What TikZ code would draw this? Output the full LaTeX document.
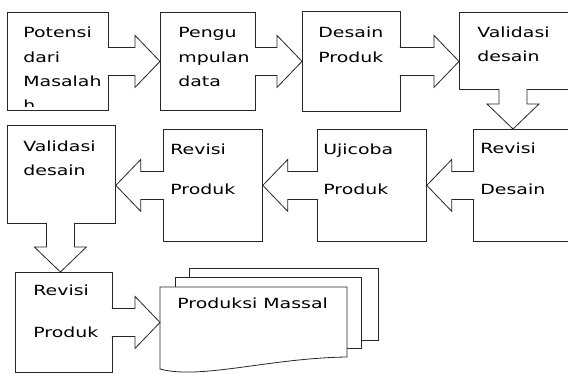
\documentclass[tikz,border=0pt]{standalone}
\usepackage{fontspec}
\newfontfamily\dvs[FakeStretch=1.35]{DejaVu Sans}
\usetikzlibrary{calc}
\newcommand\barrow[2]{%
  \coordinate (ahb) at ($(#2)!25pt!(#1)$);
  \fill[white] ($(#1)!14pt!90:(#2)$) -- ($(ahb)!14pt!90:(#2)$) -- ($(ahb)!26pt!90:(#2)$) -- (#2)
    -- ($(ahb)!26pt!-90:(#2)$) -- ($(ahb)!14pt!-90:(#2)$) -- ($(#1)!14pt!-90:(#2)$) -- cycle;
  \draw[arr] ($(#1)!14pt!90:(#2)$) -- ($(ahb)!14pt!90:(#2)$) -- ($(ahb)!26pt!90:(#2)$) -- (#2)
    -- ($(ahb)!26pt!-90:(#2)$) -- ($(ahb)!14pt!-90:(#2)$) -- ($(#1)!14pt!-90:(#2)$);
}
\begin{document}
\begin{tikzpicture}[x=1pt,y=-1pt, line width=0.8pt,
  box/.style={draw=black!85, fill=white, inner sep=0pt, anchor=north west},
  lbl/.style={anchor=base west, inner sep=0pt, font=\dvs\fontsize{14}{16}\selectfont, text=black},
  arr/.style={draw=black!85, line join=miter},
  docline/.style={draw=black!85, fill=white}]
\useasboundingbox (0,0) rectangle (568,373);
\fill[white] (0,0) rectangle (568,373);

% boxes
\node[box, minimum width=101pt, minimum height=98pt]  (b1)  at (7,12) {};
\node[box, minimum width=95pt,  minimum height=98pt]  (b2)  at (160,12) {};
\node[box, minimum width=98pt,  minimum height=100pt] (b3)  at (302,11) {};
\node[box, minimum width=130pt, minimum height=77pt]  (b4)  at (459,12) {};
\node[box, minimum width=120pt, minimum height=112pt] (r2a) at (473,129) {};
\node[box, minimum width=109pt, minimum height=112pt] (r2b) at (317,129) {};
\node[box, minimum width=99pt,  minimum height=112pt] (r2c) at (163,129) {};
\node[box, minimum width=108pt, minimum height=98pt]  (r2d) at (7,125) {};
\node[box, minimum width=97pt,  minimum height=100pt] (r3a) at (15,272) {};

% multi-document
\draw[docline] (189,268) rectangle (378,340);
\draw[docline] (175,277) rectangle (361,348);
\draw[docline] (160,287) -- (347,287) -- (347,357) .. controls (270,358) and (200,380) .. (160,369) -- cycle;
\coordinate (docw) at (160,287);

% arrows
\coordinate (s1) at ($(b1.east)+(-1,0)$);
\barrow{s1}{b2.west}
\coordinate (s2) at ($(b2.east)+(-1,0)$);
\barrow{s2}{b3.west}
\coordinate (s3) at ($(b3.east)+(-1,0)$);
\coordinate (t3) at (b4.west |- s3);
\barrow{s3}{t3}
\coordinate (s4) at ($(b4.south west)+(54,-1)$);
\coordinate (t4) at (s4 |- r2a.north);
\barrow{s4}{t4}
\coordinate (s5) at ($(r2a.west)+(1,0)$);
\barrow{s5}{r2b.east}
\coordinate (s6) at ($(r2b.west)+(1,0)$);
\barrow{s6}{r2c.east}
\coordinate (s7) at ($(r2c.west)+(1,0)$);
\coordinate (t7) at (r2d.east |- s7);
\barrow{s7}{t7}
\coordinate (s8) at ($(r2d.south)+(-1,-1)$);
\coordinate (t8) at (s8 |- r3a.north);
\barrow{s8}{t8}
\coordinate (s9) at ($(r3a.east)+(-1,0)$);
\coordinate (t9) at (docw |- s9);
\barrow{s9}{t9}

% labels
\node[lbl] (l1a) at (23,37) {Potensi};
\node[lbl] (l1b) at (23,62) {dari};
\node[lbl] (l1c) at (23,86) {Masalah};
\begin{scope}
  \clip (8,95) rectangle (107,106);
  \node[lbl] (l1d) at (23,110.5) {h};
\end{scope}
\node[lbl] (l2a) at (178,37) {Pengu};
\node[lbl] (l2b) at (178,62) {mpulan};
\node[lbl] (l2c) at (178,86) {data};
\node[lbl] (l3a) at (318,37) {Desain};
\node[lbl] (l3b) at (318,62) {Produk};
\node[lbl] (l4a) at (477,37) {Validasi};
\node[lbl] (l4b) at (477,61) {desain};
\node[lbl] (l5a) at (480,153) {Revisi};
\node[lbl] (l5b) at (480,194) {Desain};
\node[lbl] (l6a) at (323,154) {Ujicoba};
\node[lbl] (l6b) at (323,194) {Produk};
\node[lbl] (l7a) at (170,154) {Revisi};
\node[lbl] (l7b) at (170,194) {Produk};
\node[lbl] (l8a) at (23,151) {Validasi};
\node[lbl] (l8b) at (23,175) {desain};
\node[lbl] (l9a) at (33,295) {Revisi};
\node[lbl] (l9b) at (33,337) {Produk};
\node[lbl] (l10) at (177,308) {Produksi Massal};
\end{tikzpicture}
\end{document}
